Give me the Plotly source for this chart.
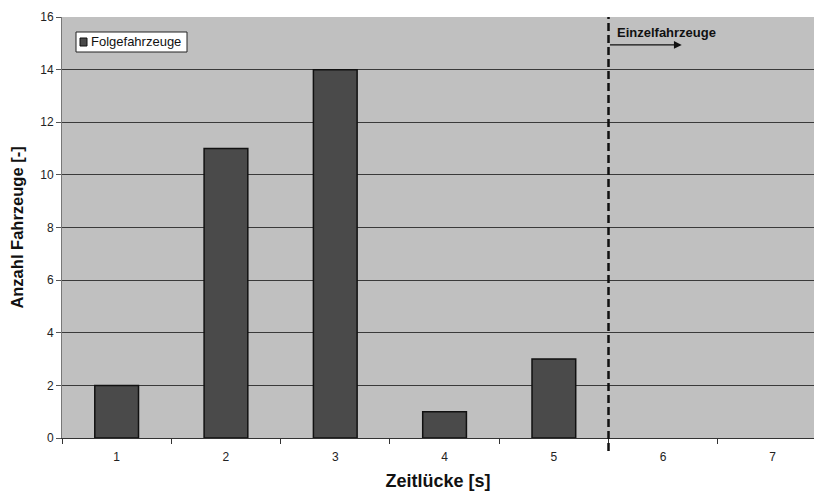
import plotly.graph_objects as go

# Zeitlücken-Klassen und Anzahl Folgefahrzeuge je Klasse
zeitluecke = ["1", "2", "3", "4", "5", "6", "7"]
folgefahrzeuge = [2, 11, 14, 1, 3, 0, 0]
y_ticks = [0, 2, 4, 6, 8, 10, 12, 14, 16]
serie_name = "Folgefahrzeuge"

FONT = "Arial, Liberation Sans, sans-serif"
BAR_COLOR = "#4a4a4a"

# Plotbereich in Pixeln, um Legendenkasten in Papierkoordinaten zu setzen
PLOT_L, PLOT_T, PLOT_W, PLOT_H = 62, 17, 752, 421


def px_x(px):
    return (px - PLOT_L) / PLOT_W


def px_y(py):
    return (PLOT_T + PLOT_H - py) / PLOT_H


fig = go.Figure()
fig.add_trace(go.Bar(
    x=zeitluecke,
    y=folgefahrzeuge,
    name=serie_name,
    width=0.4,
    showlegend=False,
    marker=dict(
        color=BAR_COLOR,
        line=dict(color="#111111",
                  width=[1.5 if v > 0 else 0 for v in folgefahrzeuge]),
    ),
))

# Legende im Excel-Stil: weißer Kasten mit kleinem Farbquadrat
fig.add_shape(type="rect", xref="paper", yref="paper",
              x0=px_x(76), x1=px_x(187), y0=px_y(52), y1=px_y(32),
              fillcolor="white", line=dict(color="#222222", width=1))
fig.add_shape(type="rect", xref="paper", yref="paper",
              x0=px_x(80), x1=px_x(87), y0=px_y(46), y1=px_y(38),
              fillcolor=BAR_COLOR, line=dict(color="#111111", width=1))
fig.add_annotation(x=px_x(89), y=px_y(42), xref="paper", yref="paper",
                   text=serie_name, showarrow=False,
                   xanchor="left", yanchor="middle",
                   font=dict(family=FONT, size=13, color="#111111"))

# Grenze zwischen Folge- und Einzelfahrzeugen (zwischen 5 s und 6 s)
fig.add_shape(
    type="line", xref="x", yref="paper",
    x0=4.5, x1=4.5, y0=-0.031, y1=1,
    line=dict(color="#111111", width=2.5, dash="8px,4px"),
)
fig.add_annotation(
    x=5.17, y=14.94, ax=4.5, ay=14.94,
    xref="x", yref="y", axref="x", ayref="y",
    text="", showarrow=True, arrowhead=2, arrowsize=1.2,
    arrowwidth=1.3, arrowcolor="#111111",
)
fig.add_annotation(
    x=4.56, y=15.42, xref="x", yref="y",
    text="<b>Einzelfahrzeuge</b>", showarrow=False,
    xanchor="left", yanchor="middle",
    font=dict(family=FONT, size=13, color="#111111"),
)

fig.update_layout(
    width=814, height=494,
    margin=dict(l=PLOT_L, r=0, t=PLOT_T, b=494 - PLOT_T - PLOT_H),
    paper_bgcolor="white",
    plot_bgcolor="#c0c0c0",
    font=dict(family=FONT, size=12, color="#222222"),
    showlegend=False,
    bargap=0.6,
    xaxis=dict(
        type="category",
        range=[-0.5, 6.38],
        tickson="boundaries",
        ticks="outside", ticklen=5, tickcolor="#333333",
        ticklabelstandoff=8,
        showline=True, linecolor="#333333", linewidth=1,
        showgrid=False,
        tickfont=dict(family=FONT, size=12, color="#222222"),
        title=dict(text="<b>Zeitlücke [s]</b>", standoff=10,
                   font=dict(family=FONT, size=18, color="#111111")),
    ),
    yaxis=dict(
        range=[0, 16],
        tickvals=y_ticks,
        ticks="outside", ticklen=5, tickcolor="#555555",
        showline=True, linecolor="#777777", linewidth=1,
        showgrid=True, gridcolor="#3a3a3a", gridwidth=1,
        zeroline=False,
        tickfont=dict(family=FONT, size=12, color="#222222"),
        title=dict(text="<b>Anzahl Fahrzeuge [-]</b>", standoff=12,
                   font=dict(family=FONT, size=16.5, color="#111111")),
    ),
)

fig.write_html("out.html")
